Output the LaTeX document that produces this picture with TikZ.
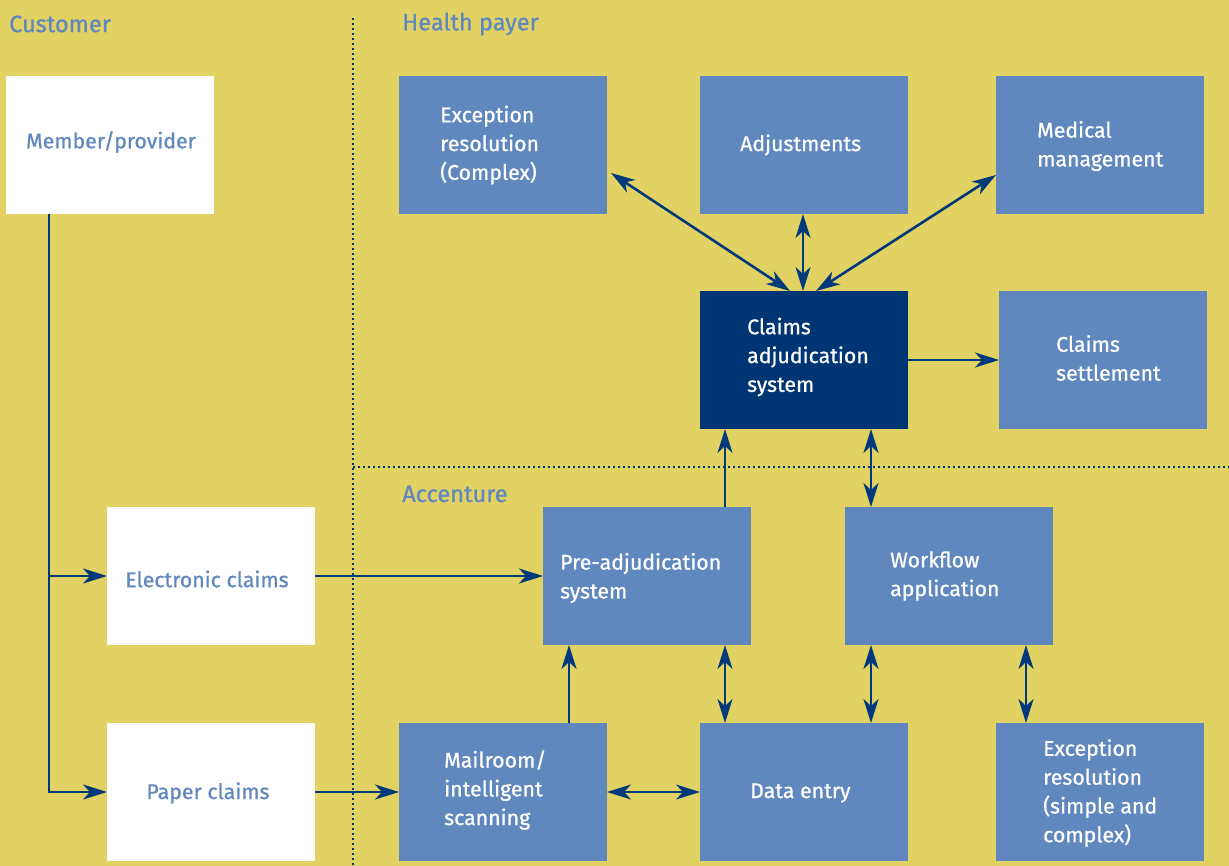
\documentclass[tikz,border=0pt]{standalone}
\usepackage{fontspec}
\setmainfont{Fira Sans}
\newfontfamily\medfont{Fira Sans}[FakeBold=0.8]
\usetikzlibrary{arrows.meta}
\definecolor{bg}{HTML}{E2D163}
\definecolor{boxblue}{HTML}{6088BE}
\definecolor{darkblue}{HTML}{003574}
\definecolor{arrowblue}{HTML}{003A7A}
\begin{document}
\begin{tikzpicture}[x=1pt,y=-1pt,
  box/.style={anchor=north west, minimum width=208pt, minimum height=138pt, inner sep=0pt, outer sep=0pt, fill=boxblue},
  wbox/.style={box, fill=white},
  dbox/.style={box, fill=darkblue},
  lbl/.style={anchor=west, align=left, text=white, font=\medfont\fontsize{21.3}{28.8}\selectfont, inner sep=0pt},
  wlbl/.style={anchor=center, text=boxblue, font=\medfont\fontsize{21.3}{28.8}\selectfont, inner sep=0pt},
  ttl/.style={anchor=west, text=boxblue, font=\medfont\fontsize{23.6}{28.8}\selectfont, inner sep=0pt},
  conn/.style={draw=arrowblue, line width=2.6pt, -{Stealth[length=24pt,width=15pt,inset=7pt]}},
  dconn/.style={draw=arrowblue, line width=2.6pt, {Stealth[length=24pt,width=15pt,inset=7pt]}-{Stealth[length=24pt,width=15pt,inset=7pt]}},
  line/.style={draw=arrowblue, line width=2.6pt},
  sepline/.style={draw=darkblue, line width=2.8pt, dash pattern=on 2.4pt off 2.6pt}
]
\fill[bg] (0,0) rectangle (1229,866);
\useasboundingbox (0,0) rectangle (1229,866);

% separators
\coordinate (vtop) at (353,18);
\coordinate (vbot) at (353,866);
\coordinate (hl) at (353,467);
\coordinate (hr) at (1229,467);
\draw[sepline] (vtop) -- (vbot);
\draw[sepline] (hl) -- (hr);

% titles
\node[ttl] (tcust) at (9,24) {Customer};
\node[ttl] (thp) at (402,24) {Health payer};
\node[ttl] (tacc) at (402,494) {Accenture};

% boxes
\node[wbox] (mem) at (6,76) {};
\node[wbox] (elec) at (107,507) {};
\node[wbox] (paper) at (107,723) {};
\node[box] (exc) at (399,76) {};
\node[box] (adj) at (700,76) {};
\node[box] (med) at (996,76) {};
\node[dbox] (cas) at (700,291) {};
\node[box] (set) at (999,291) {};
\node[box] (pre) at (543,507) {};
\node[box] (wf) at (845,507) {};
\node[box] (mail) at (399,723) {};
\node[box] (de) at (700,723) {};
\node[box] (exs) at (996,723) {};

% labels
\node[wlbl] (lmem) at (111,142) {Member/provider};
\node[wlbl] (lelec) at (207,579) {Electronic claims};
\node[wlbl] (lpaper) at (208,793) {Paper claims};
\node[lbl] (lexc) at (440,145) {Exception\\resolution\\(Complex)};
\node[lbl] (ladj) at (740,145) {Adjustments};
\node[lbl] (lmed) at (1037,146) {Medical\\management};
\node[lbl] (lcas) at (747,357) {Claims\\adjudication\\system};
\node[lbl] (lset) at (1056,358) {Claims\\settlement};
\node[lbl] (lpre) at (560,578) {Pre-adjudication\\system};
\node[lbl] (lwf) at (890,576) {Workflow\\application};
\node[lbl] (lmail) at (444,790) {Mailroom/\\intelligent\\scanning};
\node[lbl] (lde) at (750,793) {Data entry};
\node[lbl] (lexs) at (1043,793) {Exception\\resolution\\(simple and\\complex)};

% column coordinates
\coordinate (x49) at (49,0);
\coordinate (x569) at (569,0);
\coordinate (x725) at (725,0);
\coordinate (x790) at (790,0);
\coordinate (x803) at (803,0);
\coordinate (x816) at (816,0);
\coordinate (x871) at (871,0);
\coordinate (x1026) at (1026,0);

% connectors
\draw[conn] (mem.south -| x49) |- (paper.west);
\draw[conn] (elec.west -| x49) -- (elec.west);
\draw[conn] (elec.east) -- (pre.west);
\draw[conn] (paper.east) -- (mail.west);
\draw[dconn] (mail.east) -- (de.west);
\draw[conn] (mail.north -| x569) -- (pre.south -| x569);
\draw[dconn] (pre.south -| x725) -- (de.north -| x725);
\draw[conn] (pre.north -| x725) -- (cas.south -| x725);
\draw[dconn] (cas.south -| x871) -- (wf.north -| x871);
\draw[dconn] (wf.south -| x871) -- (de.north -| x871);
\draw[dconn] (wf.south -| x1026) -- (exs.north -| x1026);
\draw[conn] (cas.east) -- (set.west);
\draw[dconn] (cas.north -| x803) -- (adj.south -| x803);
\draw[dconn] (cas.north -| x790) -- ([shift={(4,-41)}]exc.south east);
\draw[dconn] (cas.north -| x816) -- ([shift={(0,-39)}]med.south west);
\end{tikzpicture}
\end{document}
